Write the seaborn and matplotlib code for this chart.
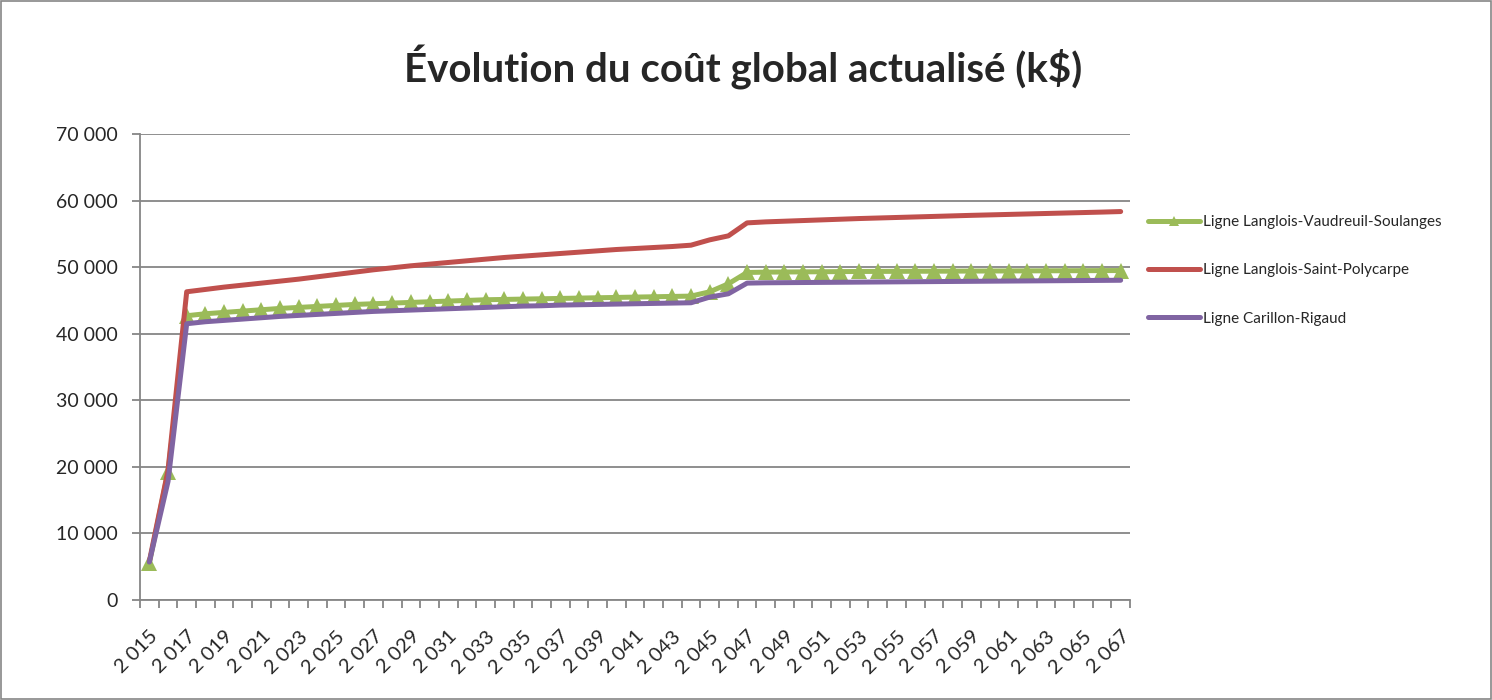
"""Évolution du coût global actualisé - three transmission line options."""
import matplotlib

matplotlib.use("Agg")
import numpy as np
import pandas as pd
import seaborn as sns
from matplotlib import pyplot as plt
from matplotlib.patches import Rectangle
from matplotlib.ticker import FuncFormatter, MultipleLocator

years = list(range(2015, 2068))

vaudreuil = [
    5500, 19300, 42700, 43000, 43200, 43400, 43600, 43800, 43950, 44100,
    44250, 44400, 44500, 44600, 44700, 44800, 44900, 45000, 45100, 45150,
    45200, 45250, 45300, 45350, 45400, 45450, 45500, 45550, 45600, 45650,
    46300, 47500, 49200, 49250, 49270, 49290, 49310, 49330, 49350, 49360,
    49370, 49380, 49390, 49400, 49410, 49420, 49430, 49440, 49450, 49460,
    49470, 49480, 49490,
]
polycarpe = [
    5800, 19500, 46300, 46650, 47000, 47300, 47600, 47900, 48200, 48550,
    48900, 49250, 49600, 49900, 50200, 50450, 50700, 50950, 51200, 51450,
    51650, 51850, 52050, 52250, 52450, 52650, 52800, 52950, 53100, 53300,
    54100, 54700, 56650, 56800, 56900, 57000, 57100, 57200, 57300, 57380,
    57460, 57540, 57620, 57700, 57780, 57850, 57920, 57990, 58060, 58130,
    58200, 58270, 58350,
]
carillon = [
    5700, 17800, 41500, 41800, 42000, 42200, 42400, 42600, 42750, 42900,
    43050, 43200, 43350, 43450, 43550, 43650, 43750, 43850, 43950, 44050,
    44150, 44200, 44300, 44350, 44400, 44450, 44500, 44550, 44600, 44650,
    45500, 46000, 47600, 47650, 47670, 47690, 47710, 47730, 47750, 47770,
    47790, 47810, 47830, 47850, 47870, 47890, 47910, 47930, 47950, 47970,
    47990, 48010, 48030,
]

series_names = [
    "Ligne Langlois-Vaudreuil-Soulanges",
    "Ligne Langlois-Saint-Polycarpe",
    "Ligne Carillon-Rigaud",
]
series_values = [vaudreuil, polycarpe, carillon]
series_colors = ["#9BBB59", "#C0504D", "#8064A2"]
series_markers = ["^", None, None]

df = pd.concat(
    [pd.DataFrame({"annee": years, "cout": vals, "ligne": name})
     for name, vals in zip(series_names, series_values)],
    ignore_index=True,
)

sns.set_theme(style="white")
plt.rcParams["font.family"] = ["Lato", "DejaVu Sans"]

fig = plt.figure(figsize=(14.92, 7.0), dpi=100)
ax = fig.add_axes([140 / 1492, 1 - 600 / 700, 990 / 1492, 466 / 700])

for name, color, marker in zip(series_names, series_colors, series_markers):
    sub = df[df["ligne"] == name]
    sns.lineplot(
        data=sub, x="annee", y="cout", ax=ax, color=color, linewidth=3.6,
        marker=marker, markersize=11, markeredgewidth=0, label=name,
    )

ax.set_xlim(2014.5, 2067.5)
ax.set_ylim(0, 70000)
ax.yaxis.set_major_locator(MultipleLocator(10000))
ax.yaxis.set_major_formatter(FuncFormatter(lambda v, _: f"{v:,.0f}".replace(",", " ")))
ax.set_xticks(years[::2])
ax.set_xticklabels([f"{y:,}".replace(",", " ") for y in years[::2]])
ax.xaxis.set_minor_locator(MultipleLocator(1, offset=0.5))
ax.grid(axis="y", color="#868686", linewidth=1.3)
ax.set_axisbelow(True)
for side in ["top", "right"]:
    ax.spines[side].set_visible(False)
for side in ["left", "bottom"]:
    ax.spines[side].set_color("#868686")
    ax.spines[side].set_linewidth(1.3)

ax.tick_params(axis="y", which="major", length=6, width=1.3, color="#868686",
               labelsize=14, pad=10, left=True)
ax.tick_params(axis="x", which="major", length=0, labelsize=14.5, pad=20)
ax.tick_params(axis="x", which="minor", length=6, width=1.3, color="#868686",
               bottom=True)
for lbl in ax.get_xticklabels():
    lbl.set_rotation(45)
    lbl.set_ha("right")
    lbl.set_va("top")
    lbl.set_rotation_mode("anchor")

ax.set_xlabel("")
ax.set_ylabel("")

fig.text(0.498, 1 - 68 / 700, "Évolution du coût global actualisé (k$)",
         ha="center", va="center", fontsize=29, fontweight="bold")

ax.legend(
    loc="upper left", bbox_to_anchor=(1148 / 1492, 1 - 215 / 700),
    bbox_transform=fig.transFigure, frameon=False, fontsize=11,
    handlelength=3.4, handletextpad=0.2, labelspacing=2.25,
    borderpad=0, borderaxespad=0, markerscale=0.6,
)

fig.patches.append(Rectangle((0.001, 0.001), 0.998, 0.997, transform=fig.transFigure,
                             fill=False, edgecolor="#868686", linewidth=1.2))

fig.savefig("out.png", dpi=100)
